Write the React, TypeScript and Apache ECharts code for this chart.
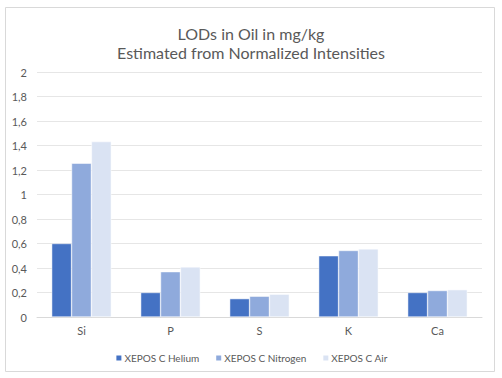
import React, { useEffect, useRef } from "react";
import * as echarts from "echarts";

const categories = ["Si", "P", "S", "K", "Ca"];
const helium = [0.6, 0.2, 0.15, 0.5, 0.2];
const nitrogen = [1.255, 0.37, 0.17, 0.543, 0.216];
const air = [1.432, 0.409, 0.186, 0.556, 0.223];
const seriesNames = ["XEPOS C Helium", "XEPOS C Nitrogen", "XEPOS C Air"];
const colors = ["#4472C4", "#8FAADC", "#DAE3F3"];

const FONT = "Lato, 'Open Sans', sans-serif";

export default function App() {
  const ref = useRef<HTMLDivElement>(null);
  useEffect(() => {
    document.body.style.margin = "0";
    const chart = echarts.init(ref.current!, undefined, { renderer: "svg" });
    const data = [helium, nitrogen, air];
    chart.setOption({
      animation: false,
      backgroundColor: "#ffffff",
      title: {
        text: "LODs in Oil in mg/kg\nEstimated from Normalized Intensities",
        left: "center",
        top: 19,
        textStyle: {
          fontFamily: FONT,
          fontSize: 16,
          fontWeight: "normal",
          color: "#595959",
          lineHeight: 19,
        },
      },
      graphic: [
        {
          type: "rect",
          shape: { x: 5.5, y: 7.5, width: 489, height: 364 },
          style: { fill: "none", stroke: "#D9D9D9", lineWidth: 1 },
          silent: true,
        },
      ],
      legend: {
        top: 348,
        left: "center",
        icon: "rect",
        itemWidth: 7,
        itemHeight: 7,
        itemGap: 15,
        textStyle: { fontFamily: FONT, fontSize: 10, color: "#595959", padding: [0, 0, 0, -3] },
        data: seriesNames,
      },
      grid: { left: 37, right: 20, top: 72, bottom: 61, containLabel: false },
      xAxis: {
        type: "category",
        data: categories,
        axisTick: { show: false },
        axisLine: { lineStyle: { color: "#D9D9D9" } },
        axisLabel: { fontFamily: FONT, fontSize: 11, color: "#595959", margin: 8 },
      },
      yAxis: {
        type: "value",
        min: 0,
        max: 2,
        interval: 0.2,
        axisLine: { show: false },
        axisTick: { show: false },
        splitLine: { lineStyle: { color: "#E6E6E6" } },
        axisLabel: {
          fontFamily: FONT,
          fontSize: 11,
          color: "#595959",
          margin: 10,
          formatter: (v: number) => String(Math.round(v * 10) / 10).replace(".", ","),
        },
      },
      series: seriesNames.map((name, i) => ({
        name,
        type: "bar",
        data: data[i],
        barGap: "0%",
        barCategoryGap: "33%",
        itemStyle: { color: colors[i], borderColor: "#ffffff", borderWidth: 0.5 },
      })),
    });
    return () => chart.dispose();
  }, []);
  return <div ref={ref} style={{ width: 502, height: 378 }} />;
}
